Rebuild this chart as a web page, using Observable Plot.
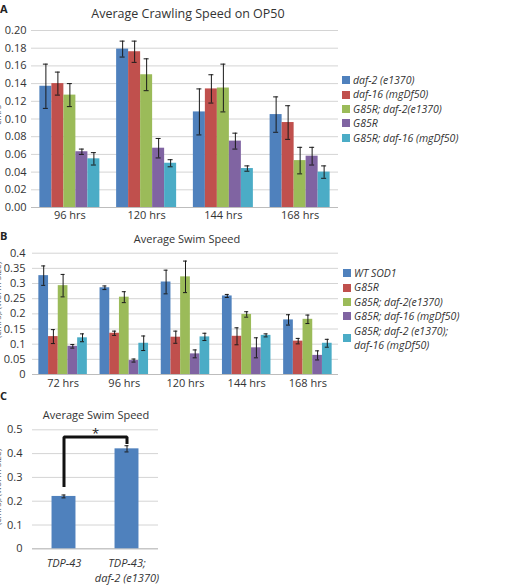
<!DOCTYPE html>
<html>
<head>
<meta charset="utf-8">
<script src="https://cdn.jsdelivr.net/npm/d3@7"></script>
<script src="https://cdn.jsdelivr.net/npm/@observablehq/plot@0.6"></script>
<style>
  body { margin: 0; background: #fff; }
  #fig { position: relative; width: 528px; height: 585px; overflow: hidden; font-family: "Open Sans", sans-serif; color: #333; }
  #fig svg { position: absolute; overflow: visible; }
  .title { position: absolute; transform: translate(-50%, -50%); white-space: nowrap; color: #333; }
  .letter { position: absolute; font-weight: bold; font-size: 11px; line-height: 12px; color: #222; }
  .ylab { position: absolute; transform: translate(-50%, -50%) rotate(-90deg); white-space: nowrap; font-size: 9px; color: #666; }
  .legend { position: absolute; font-style: italic; font-size: 10.5px; line-height: 14.4px; color: #333; }
  .legend .row { display: flex; align-items: center; }
  .legend .sw { width: 8px; height: 8px; margin-right: 3px; flex: none; }
</style>
</head>
<body>
<div id="fig"></div>
<script>
// Crawling speed on OP50 (panel A)
const timesA = ["96 hrs", "120 hrs", "144 hrs", "168 hrs"];
const seriesA = ["daf-2 (e1370)", "daf-16 (mgDf50)", "G85R; daf-2(e1370)", "G85R", "G85R; daf-16 (mgDf50)"];
const meanA = [
  [0.137, 0.179, 0.108, 0.105],
  [0.140, 0.176, 0.134, 0.096],
  [0.127, 0.150, 0.135, 0.053],
  [0.063, 0.067, 0.075, 0.058],
  [0.055, 0.050, 0.044, 0.040]
];
const errA = [
  [0.025, 0.009, 0.026, 0.020],
  [0.013, 0.012, 0.016, 0.019],
  [0.013, 0.018, 0.027, 0.015],
  [0.003, 0.011, 0.009, 0.010],
  [0.007, 0.004, 0.003, 0.007]
];
const ticksA = [0, 0.02, 0.04, 0.06, 0.08, 0.10, 0.12, 0.14, 0.16, 0.18, 0.20];

// Swim speed, SOD1 strains (panel B)
const timesB = ["72 hrs", "96 hrs", "120 hrs", "144 hrs", "168 hrs"];
const seriesB = ["WT SOD1", "G85R", "G85R; daf-2(e1370)", "G85R; daf-16 (mgDf50)", "G85R; daf-2 (e1370);\ndaf-16 (mgDf50)"];
const meanB = [
  [0.326, 0.286, 0.305, 0.259, 0.180],
  [0.125, 0.136, 0.123, 0.126, 0.110],
  [0.293, 0.255, 0.322, 0.198, 0.182],
  [0.093, 0.046, 0.068, 0.088, 0.063],
  [0.121, 0.103, 0.124, 0.129, 0.103]
];
const errB = [
  [0.032, 0.006, 0.039, 0.005, 0.017],
  [0.023, 0.007, 0.020, 0.028, 0.009],
  [0.037, 0.018, 0.052, 0.009, 0.014],
  [0.006, 0.005, 0.013, 0.033, 0.015],
  [0.013, 0.024, 0.012, 0.005, 0.013]
];
const ticksB = [0, 0.05, 0.1, 0.15, 0.2, 0.25, 0.3, 0.35, 0.4];

// Swim speed, TDP-43 strains (panel C)
const groupsC = ["TDP-43", "TDP-43;\ndaf-2 (e1370)"];
const meanC = [0.22, 0.42];
const errC = [0.006, 0.013];
const ticksC = [0, 0.1, 0.2, 0.3, 0.4, 0.5];
// significance bracket: rises from the first bar, crosses, drops onto the second
const bracketX = [groupsC[0], groupsC[0], groupsC[1], groupsC[1]];
const bracketY = [0.26, 0.47, 0.47, 0.44];
const starLabel = "*";

const colors = ["#4f81bd", "#c0504d", "#9bbb59", "#8064a2", "#4bacc6"];

const fig = document.getElementById("fig");
const font = {fontFamily: "Open Sans, sans-serif", fontSize: "11px", color: "#333", background: "transparent", overflow: "visible"};

function groupedChart({times, means, errs, ticks, fmt, width, height, m, barW, capW, padInner, xPad, yPad}) {
  const n = times.length;
  const step = (width - m.left - m.right) / n;
  const bw = step * (1 - padInner);
  const rows = [];
  means.forEach((vals, si) => vals.forEach((v, ti) => {
    rows.push({si, time: times[ti], value: v, lo: v - errs[si][ti], hi: v + errs[si][ti]});
  }));
  const marks = [
    Plot.gridY(ticks, {stroke: "#d4d4d4", strokeOpacity: 1}),
    Plot.ruleY([0], {stroke: "#bdbdbd"})
  ];
  means.forEach((_, si) => {
    const d = rows.filter(r => r.si === si);
    const dx = (si - (means.length - 1) / 2) * barW;
    const inset = (bw - barW) / 2;
    const capInset = (bw - capW) / 2;
    marks.push(
      Plot.barY(d, {x: "time", y: "value", fill: colors[si], dx, insetLeft: inset, insetRight: inset}),
      Plot.ruleX(d, {x: "time", y1: "lo", y2: "hi", dx, stroke: "#1a1a1a", strokeWidth: 1}),
      Plot.tickY(d, {x: "time", y: "lo", dx, insetLeft: capInset, insetRight: capInset, stroke: "#1a1a1a"}),
      Plot.tickY(d, {x: "time", y: "hi", dx, insetLeft: capInset, insetRight: capInset, stroke: "#1a1a1a"})
    );
  });
  marks.push(
    Plot.axisY(ticks, {tickSize: 0, tickPadding: yPad, tickFormat: fmt, fontSize: 11, label: null}),
    Plot.axisX({tickSize: 0, tickPadding: xPad, fontSize: 11, label: null})
  );
  return Plot.plot({
    width, height,
    marginLeft: m.left, marginRight: m.right, marginTop: m.top, marginBottom: m.bottom,
    style: font,
    x: {type: "band", domain: times, paddingInner: padInner, paddingOuter: padInner / 2, round: false},
    y: {domain: [ticks[0], ticks[ticks.length - 1]]},
    marks
  });
}

function place(el, top, left = 0) {
  el.style.top = top + "px";
  el.style.left = left + "px";
  fig.appendChild(el);
}

function addText(cls, text, x, y, extra = {}) {
  const d = document.createElement("div");
  d.className = cls;
  d.textContent = text;
  d.style.left = x + "px";
  d.style.top = y + "px";
  Object.assign(d.style, extra);
  fig.appendChild(d);
  return d;
}

function addLegend(series, x, y) {
  const box = document.createElement("div");
  box.className = "legend";
  box.style.left = x + "px";
  box.style.top = y + "px";
  series.forEach((s, i) => {
    const row = document.createElement("div");
    row.className = "row";
    const sw = document.createElement("div");
    sw.className = "sw";
    sw.style.background = colors[i];
    const t = document.createElement("div");
    t.style.whiteSpace = "pre";
    t.textContent = s;
    row.appendChild(sw);
    row.appendChild(t);
    box.appendChild(row);
  });
  fig.appendChild(box);
}

// Panel A
place(groupedChart({
  times: timesA, means: meanA, errs: errA, ticks: ticksA, fmt: d3.format(".2f"),
  width: 528, height: 226, m: {left: 31, right: 190, top: 30, bottom: 19},
  barW: 12, capW: 5, padInner: 0.22, xPad: 4, yPad: 5
}), 0);
addText("title", "Average Crawling Speed on OP50", 188, 13, {fontSize: "12.5px"});
addText("letter", "A", 0, 3);
addText("ylab", "cm/s", -3, 115);
addLegend(seriesA, 342, 73);

// Panel B
place(groupedChart({
  times: timesB, means: meanB, errs: errB, ticks: ticksB, fmt: d3.format("~g"),
  width: 528, height: 170, m: {left: 32, right: 190, top: 24.7, bottom: 24},
  barW: 9.7, capW: 4, padInner: 0.215, xPad: 5, yPad: 7
}), 228);
addText("title", "Average Swim Speed", 187, 238, {fontSize: "11px"});
addText("letter", "B", 0, 230);
addText("ylab", "(cm/s)/(worm size)", -3, 300);
addLegend(seriesB, 343, 266);

// Panel C
{
  const width = 180, height = 185, m = {left: 32, right: 22, top: 29.3, bottom: 36.7};
  const padInner = 0.62;
  const step = (width - m.left - m.right) / groupsC.length;
  const bw = step * (1 - padInner);
  const capInset = (bw - 4) / 2;
  const rows = groupsC.map((g, i) => ({g, value: meanC[i], lo: meanC[i] - errC[i], hi: meanC[i] + errC[i]}));
  const bracket = bracketX.map((g, i) => ({g, y: bracketY[i]}));
  const chart = Plot.plot({
    width, height,
    marginLeft: m.left, marginRight: m.right, marginTop: m.top, marginBottom: m.bottom,
    style: font,
    x: {type: "band", domain: groupsC, paddingInner: padInner, paddingOuter: padInner / 2, round: false},
    y: {domain: [0, 0.5]},
    marks: [
      Plot.gridY(ticksC, {stroke: "#d4d4d4", strokeOpacity: 1}),
      Plot.ruleY([0], {stroke: "#bdbdbd"}),
      Plot.barY(rows, {x: "g", y: "value", fill: colors[0]}),
      Plot.ruleX(rows, {x: "g", y1: "lo", y2: "hi", stroke: "#1a1a1a"}),
      Plot.tickY(rows, {x: "g", y: "lo", insetLeft: capInset, insetRight: capInset, stroke: "#1a1a1a"}),
      Plot.tickY(rows, {x: "g", y: "hi", insetLeft: capInset, insetRight: capInset, stroke: "#1a1a1a"}),
      Plot.line(bracket, {x: "g", y: "y", stroke: "#111", strokeWidth: 3, strokeLinejoin: "miter", strokeLinecap: "butt"}),
      Plot.text([starLabel], {x: () => groupsC[0], y: () => 0.5, text: d => d, dx: step / 2, dy: 4, fontSize: 13, fill: "#222"}),
      Plot.axisY(ticksC, {tickSize: 0, tickPadding: 10, tickFormat: d3.format("~g"), fontSize: 11, label: null}),
      Plot.axisX({tickSize: 0, tickPadding: 8, fontSize: 11, fontStyle: "italic", label: null, lineHeight: 1.35})
    ]
  });
  place(chart, 400);
  addText("title", "Average Swim Speed", 96, 414, {fontSize: "11px"});
  addText("letter", "C", 0, 390);
  addText("ylab", "(cm/s)/(worm size)", -3, 487);
}
</script>
</body>
</html>
